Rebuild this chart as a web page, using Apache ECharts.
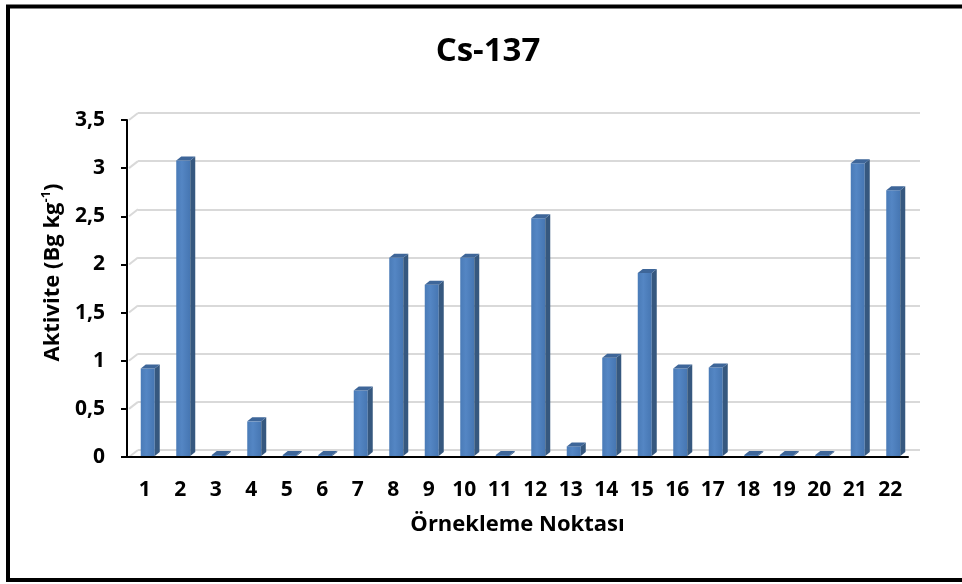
<!DOCTYPE html>
<html>
<head>
<meta charset="utf-8">
<script src="https://cdn.jsdelivr.net/npm/echarts@6/dist/echarts.min.js"></script>
<style>
  html, body { margin: 0; padding: 0; background: #fff; }
  #chart { width: 962px; height: 584px; }
</style>
</head>
<body>
<div id="chart"></div>
<script>
// sample points and Cs-137 activity (Bg/kg)
const categories = ['1', '2', '3', '4', '5', '6', '7', '8', '9', '10', '11',
  '12', '13', '14', '15', '16', '17', '18', '19', '20', '21', '22'];
const activity = [0.92, 3.08, 0, 0.37, 0, 0, 0.69, 2.07, 1.79, 2.07, 0,
  2.48, 0.11, 1.03, 1.91, 0.92, 0.93, 0, 0, 0, 3.05, 2.77];
const yTicks = [0, 0.5, 1, 1.5, 2, 2.5, 3, 3.5];

const FONT = 'Open Sans';
const chart = echarts.init(document.getElementById('chart'), null, { renderer: 'canvas' });

// pseudo-3D column: front face, side face, top face
function renderBar(params, api) {
  const i = api.value(0);
  const v = api.value(1);
  const base = api.coord([i, 0]);
  const top = api.coord([i, v]);
  const w = 14, dx = 5, dy = 4;
  const x0 = base[0] - 4;
  const yb = base[1] - 1;
  const yt = Math.min(top[1], yb - 1);
  return {
    type: 'group',
    children: [
      {
        type: 'rect',
        shape: { x: x0, y: yt, width: w, height: yb - yt },
        style: {
          fill: new echarts.graphic.LinearGradient(0, 0, 1, 0, [
            { offset: 0, color: '#4a7bb7' },
            { offset: 0.4, color: '#5486c4' },
            { offset: 1, color: '#4676b2' },
          ]),
        },
      },
      {
        type: 'polygon',
        shape: { points: [[x0 + w, yt], [x0 + w + dx, yt - dy], [x0 + w + dx, yb - dy], [x0 + w, yb]] },
        style: { fill: '#36587f' },
      },
      {
        type: 'polygon',
        shape: { points: [[x0, yt], [x0 + dx, yt - dy], [x0 + w + dx, yt - dy], [x0 + w, yt]] },
        style: { fill: '#3e6699' },
      },
    ],
  };
}

// slanted gridline pieces on the left wall
function renderWall(params, api) {
  const y = api.coord([0, api.value(1)])[1];
  const x = params.coordSys.x;
  return {
    type: 'line',
    shape: { x1: x - 9, y1: y + 7, x2: x, y2: y },
    style: { stroke: '#d9d9d9', lineWidth: 2 },
  };
}

const option = {
  backgroundColor: '#fff',
  animation: false,
  title: {
    text: 'Cs-137',
    left: 483,
    top: 30,
    textAlign: 'center',
    textStyle: { fontFamily: FONT, fontWeight: 'bold', fontSize: 33, color: '#000' },
  },
  graphic: [
    {
      type: 'rect',
      shape: { x: 8, y: 6.5, width: 1000, height: 573.5 },
      style: { fill: null, stroke: '#000', lineWidth: 4 },
      silent: true,
    },
  ],
  grid: [
    { left: 127, right: 54, top: 120, bottom: 127 },
    { left: 138, right: 42, top: 113, bottom: 134 },
  ],
  xAxis: [
    {
      type: 'category',
      gridIndex: 0,
      data: categories,
      axisLine: { lineStyle: { color: '#000', width: 2 } },
      axisTick: { show: false },
      axisLabel: { margin: 23, fontFamily: FONT, fontWeight: 'bold', fontSize: 21, color: '#000' },
      name: 'Örnekleme Noktası',
      nameLocation: 'middle',
      nameGap: 57,
      nameTextStyle: { fontFamily: FONT, fontWeight: 'bold', fontSize: 22, color: '#000' },
      z: 5,
    },
    {
      type: 'category',
      gridIndex: 1,
      data: categories,
      show: false,
    },
  ],
  yAxis: [
    {
      type: 'value',
      gridIndex: 0,
      min: 0,
      max: 3.5,
      interval: 0.5,
      axisLine: { show: true, lineStyle: { color: '#000', width: 2 } },
      axisTick: { show: true, length: 6, lineStyle: { color: '#000', width: 2 } },
      splitLine: { show: false },
      axisLabel: {
        margin: 22,
        fontFamily: FONT, fontWeight: 'bold', fontSize: 21, color: '#000',
        formatter: v => String(v).replace('.', ','),
      },
      name: '{a|Aktivite (Bg kg}{s|-1}{a|)}',
      nameLocation: 'middle',
      nameGap: 51,
      nameTextStyle: {
        padding: [0, 0, 0, 32],
        rich: {
          a: { fontFamily: FONT, fontWeight: 'bold', fontSize: 22, color: '#000', lineHeight: 26 },
          s: { fontFamily: FONT, fontWeight: 'bold', fontSize: 13, color: '#000', verticalAlign: 'top', lineHeight: 26, padding: [0, 0, 9, 0] },
        },
      },
      z: 5,
    },
    {
      type: 'value',
      gridIndex: 1,
      min: 0,
      max: 3.5,
      interval: 0.5,
      axisLine: { show: false },
      axisTick: { show: false },
      axisLabel: { show: false },
      splitLine: { show: true, lineStyle: { color: '#d9d9d9', width: 2 } },
    },
  ],
  series: [
    {
      type: 'custom',
      xAxisIndex: 1,
      yAxisIndex: 1,
      renderItem: renderWall,
      data: yTicks.map(t => [0, t]),
      silent: true,
      z: 1,
    },
    {
      type: 'custom',
      xAxisIndex: 0,
      yAxisIndex: 0,
      renderItem: renderBar,
      data: activity.map((v, i) => [i, v]),
      z: 3,
    },
  ],
};

chart.setOption(option);
</script>
</body>
</html>
